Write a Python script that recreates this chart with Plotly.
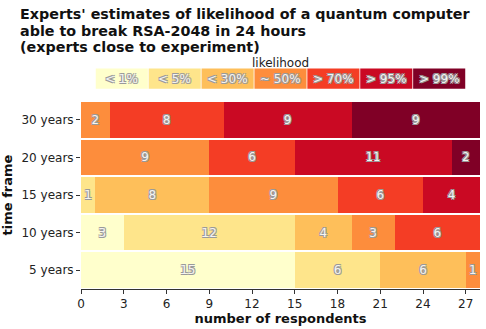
import plotly.graph_objects as go

rows = ["5 years", "10 years", "15 years", "20 years", "30 years"]
categories = ["< 1%", "< 5%", "< 30%", "~ 50%", "> 70%", "> 95%", "> 99%"]
colors = ["#ffffcc", "#fee58b", "#febf5a", "#fd8d3c", "#f43d25", "#ca0923", "#800026"]
# counts per category, in order of rows
counts = {
    "< 1%":  [15, 3, 0, 0, 0],
    "< 5%":  [6, 12, 1, 0, 0],
    "< 30%": [6, 4, 8, 0, 0],
    "~ 50%": [1, 3, 9, 9, 2],
    "> 70%": [0, 6, 6, 6, 8],
    "> 95%": [0, 0, 4, 11, 9],
    "> 99%": [0, 0, 0, 2, 9],
}
xticks = [0, 3, 6, 9, 12, 15, 18, 21, 24, 27]
title_lines = ["Experts' estimates of likelihood of a quantum computer",
               "able to break RSA-2048 in 24 hours",
               "(experts close to experiment)"]

FONT = "DejaVu Sans"
oc = "#9a9a9a"
outline = f"1px 1px 0 {oc}, -1px -1px 0 {oc}, 1px -1px 0 {oc}, -1px 1px 0 {oc}"

fig = go.Figure()
for cat, col in zip(categories, colors):
    vals = [v if v else None for v in counts[cat]]
    txt = [str(v) if v else "" for v in counts[cat]]
    fig.add_trace(go.Bar(
        y=rows, x=vals, orientation="h", name=cat,
        marker=dict(color=col, line=dict(width=0)),
        text=txt, textposition="inside", insidetextanchor="middle",
        textangle=0, constraintext="none",
        textfont=dict(family=FONT, size=12, color="#f4f4f4", shadow=outline),
        hoverinfo="x+y+name", showlegend=False,
    ))

# custom legend: colored boxes with labels inside
x0, x1 = 0.037, 0.965
y0, y1 = 1.065, 1.173
n = len(categories)
w = (x1 - x0) / n
shapes = []
annotations = []
for i, (cat, col) in enumerate(zip(categories, colors)):
    shapes.append(dict(type="rect", xref="paper", yref="paper",
                       x0=x0 + i * w, x1=x0 + (i + 1) * w - 0.002, y0=y0, y1=y1,
                       fillcolor=col, line=dict(width=0), layer="above"))
    annotations.append(dict(xref="paper", yref="paper", x=x0 + (i + 0.5) * w - 0.001,
                            y=(y0 + y1) / 2, text=cat, showarrow=False,
                            font=dict(family=FONT, size=12, color="#f4f4f4", shadow=outline),
                            xanchor="center", yanchor="middle"))
annotations.append(dict(xref="paper", yref="paper", x=(x0 + x1) / 2, y=(292 - 62) / 191,
                        text="likelihood", showarrow=False,
                        font=dict(family=FONT, size=12, color="#222"),
                        xanchor="center", yanchor="middle"))
# title lines as left-aligned annotations
for k, line in enumerate(title_lines):
    cy = 13 + k * 16.5
    annotations.append(dict(xref="paper", yref="paper", x=(15 - 78) / 402, y=(292 - cy) / 191,
                            text=line, showarrow=False, xanchor="left", yanchor="middle",
                            align="left",
                            font=dict(family=FONT, size=14.3, color="#111", weight="bold")))

fig.update_layout(
    width=486, height=329,
    margin=dict(l=78, r=6, t=101, b=37),
    barmode="stack", bargap=0.05,
    paper_bgcolor="white", plot_bgcolor="white",
    font=dict(family=FONT, size=12, color="#222"),
    shapes=shapes, annotations=annotations,
    xaxis=dict(range=[0, 28], tickvals=xticks, ticks="outside", ticklen=4,
               tickcolor="#333", showline=True, linecolor="#333", linewidth=1,
               showgrid=False, zeroline=False,
               tickfont=dict(family=FONT, size=12, color="#222"),
               title=dict(text="number of respondents", standoff=2,
                          font=dict(family=FONT, size=13, color="#111", weight="bold"))),
    yaxis=dict(categoryorder="array", categoryarray=rows, ticks="outside", ticklen=4,
               tickcolor="#333", showline=False, showgrid=False, zeroline=False,
               tickfont=dict(family=FONT, size=12, color="#222"),
               title=dict(text="time frame", standoff=6,
                          font=dict(family=FONT, size=13, color="#111", weight="bold"))),
)

fig.write_html("out.html")
